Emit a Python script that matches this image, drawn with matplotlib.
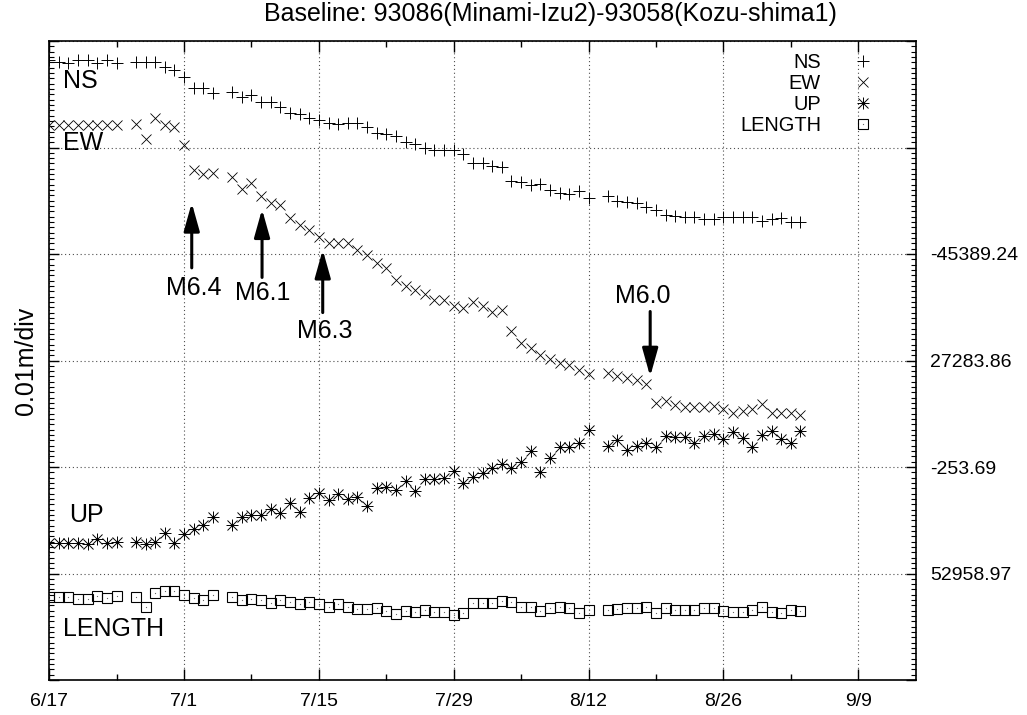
import numpy as np
import matplotlib.pyplot as plt
from matplotlib.lines import Line2D
from matplotlib import font_manager
from matplotlib.ticker import FixedLocator, FixedFormatter, MultipleLocator

nan = np.nan

# one fix per day, counted from 6/17 (nan = no solution that day)
days = list(range(79))

ns = [5.82, 5.80, 5.79, 5.82, 5.82, 5.79, 5.82, 5.79, nan, 5.80,
      5.80, 5.80, 5.76, 5.73, 5.66, 5.56, 5.56, 5.51, nan, 5.52,
      5.47, 5.49, 5.43, 5.43, 5.38, 5.32, 5.31, 5.28, 5.26, 5.23,
      5.22, 5.23, 5.23, 5.19, 5.14, 5.13, 5.11, 5.05, 5.03, 5.00,
      4.98, 4.98, 4.98, 4.94, 4.85, 4.85, 4.83, 4.82, 4.69, 4.68,
      4.65, 4.66, 4.60, 4.57, 4.56, 4.59, 4.53, nan, 4.54, 4.50,
      4.49, 4.48, 4.44, 4.41, 4.37, 4.36, 4.35, 4.35, 4.33, 4.33,
      4.35, 4.35, 4.35, 4.35, 4.31, 4.33, 4.34, 4.30, 4.30]

ew = [5.21, 5.21, 5.21, 5.21, 5.21, 5.21, 5.21, 5.21, nan, 5.22,
      5.08, 5.28, 5.21, 5.19, 5.02, 4.79, 4.75, 4.76, nan, 4.72,
      4.61, 4.67, 4.54, 4.48, 4.46, 4.34, 4.27, 4.23, 4.16, 4.10,
      4.10, 4.10, 4.04, 3.99, 3.92, 3.87, 3.76, 3.70, 3.66, 3.62,
      3.57, 3.57, 3.51, 3.49, 3.55, 3.51, 3.46, 3.47, 3.28, 3.16,
      3.12, 3.05, 3.01, 2.98, 2.96, 2.91, 2.87, nan, 2.88, 2.85,
      2.84, 2.82, 2.78, 2.60, 2.62, 2.58, 2.56, 2.56, 2.56, 2.57,
      2.54, 2.51, 2.53, 2.54, 2.59, 2.51, 2.51, 2.51, 2.49]

up = [1.29, 1.29, 1.29, 1.29, 1.28, 1.32, 1.29, 1.30, nan, 1.30,
      1.28, 1.30, 1.38, 1.29, 1.37, 1.42, 1.46, 1.53, nan, 1.46,
      1.53, 1.55, 1.55, 1.61, 1.57, 1.66, 1.58, 1.71, 1.76, 1.69,
      1.75, 1.70, 1.72, 1.63, 1.80, 1.81, 1.78, 1.87, 1.77, 1.89,
      1.89, 1.90, 1.96, 1.85, 1.91, 1.94, 1.99, 2.03, 1.99, 2.05,
      2.15, 1.95, 2.08, 2.19, 2.19, 2.23, 2.35, nan, 2.20, 2.25,
      2.16, 2.20, 2.23, 2.19, 2.29, 2.28, 2.28, 2.23, 2.29, 2.31,
      2.26, 2.33, 2.27, 2.19, 2.30, 2.34, 2.26, 2.23, 2.34]

length = [0.78, 0.78, 0.78, 0.76, 0.76, 0.79, 0.77, 0.79, nan, 0.78,
          0.69, 0.82, 0.84, 0.84, 0.80, 0.77, 0.75, 0.80, nan, 0.78,
          0.75, 0.76, 0.75, 0.72, 0.75, 0.73, 0.71, 0.73, 0.71, 0.69,
          0.71, 0.69, 0.67, 0.67, 0.68, 0.65, 0.62, 0.65, 0.64, 0.66,
          0.64, 0.64, 0.61, 0.63, 0.72, 0.72, 0.72, 0.74, 0.73, 0.69,
          0.69, 0.65, 0.68, 0.69, 0.68, 0.63, 0.66, nan, 0.66, 0.67,
          0.68, 0.68, 0.69, 0.63, 0.68, 0.66, 0.66, 0.66, 0.68, 0.68,
          0.65, 0.64, 0.64, 0.66, 0.69, 0.64, 0.63, 0.66, 0.65]

xtick_days = [0, 14, 28, 42, 56, 70, 84]
xtick_labels = ["6/17", "7/1", "7/15", "7/29", "8/12", "8/26", "9/9"]
ytick_divs = [0, 1, 2, 3, 4, 5, 6]
right_labels = ["", "52958.97", "-253.69", "27283.86", "-45389.24", "", ""]

# earthquakes: label, day, arrow tail, arrow tip, label x, label y
quakes = [("M6.4", 14.8, 3.87, 4.48, 15.0, 3.68),
          ("M6.1", 22.1, 3.78, 4.42, 22.2, 3.63),
          ("M6.3", 28.4, 3.45, 4.04, 28.6, 3.28),
          ("M6.0", 62.4, 3.46, 2.85, 61.6, 3.61)]

# series names written inside the plot
series_names = [("NS", 1.4, 5.62), ("EW", 1.4, 5.04),
                ("UP", 2.1, 1.55), ("LENGTH", 1.4, 0.48)]

names = {f.name for f in font_manager.fontManager.ttflist}
narrow = "Liberation Sans Narrow" if "Liberation Sans Narrow" in names else "Liberation Sans"
plt.rcParams["font.family"] = "Liberation Sans"

fig = plt.figure(figsize=(10.27, 7.15), dpi=100)
ax = fig.add_axes([49.2 / 1027, 1 - 680 / 715, (916 - 49.2) / 1027, 639 / 715])

k = dict(linestyle="none", color="black")
ax.plot(days, ns, marker="+", ms=8, mew=0.7, **k)
ax.plot(days, ew, marker="x", ms=7, mew=0.6, **k)
ax.plot(days, up, marker="+", ms=9, mew=0.7, **k)
ax.plot(days, up, marker="x", ms=7, mew=0.7, **k)
ax.plot(days, up, marker="o", ms=2.2, mew=0, **k)
ax.plot(days, length, marker="s", ms=6.5, mew=0.8, mfc="none", **k)
ax.plot(days, length, marker="o", ms=0.9, mew=0, color="0.4", linestyle="none")

for lab, d, tail, tip, lx, ly in quakes:
    ax.annotate("", xy=(d, tip), xytext=(d, tail),
                arrowprops=dict(arrowstyle="-|>,head_length=1.0,head_width=0.28",
                                mutation_scale=17, lw=2.2, color="black",
                                shrinkA=0, shrinkB=0))
    ax.text(lx, ly, lab, ha="center", va="center", fontsize=18)

for lab, x, y in series_names:
    ax.text(x, y, lab, ha="left", va="center", fontsize=18)

ax.set_xlim(0, 90)
ax.set_ylim(0, 6)
ax.xaxis.set_major_locator(FixedLocator(xtick_days))
ax.set_xticklabels(xtick_labels, fontsize=14, family=narrow)
ax.xaxis.set_minor_locator(MultipleLocator(7))
ax.yaxis.set_major_locator(FixedLocator(ytick_divs))
ax.yaxis.set_major_formatter(FixedFormatter(right_labels))
ax.yaxis.set_minor_locator(MultipleLocator(0.05))
ax.tick_params(which="both", direction="in", top=True, right=True,
               labelleft=False, labelright=True, width=1.0)
ax.tick_params(axis="x", which="major", length=8, pad=9)
ax.tick_params(axis="x", which="minor", length=4)
ax.tick_params(axis="y", which="major", length=7, labelsize=14, pad=10)
ax.tick_params(axis="y", which="minor", length=3.5, width=0.8)
for s in ax.spines.values():
    s.set_linewidth(1.2)
ax.grid(True, which="major", color="0.3", linestyle=(0, (1, 2.5)), lw=0.8)

ax.set_ylabel("0.01m/div", fontsize=18, labelpad=8)
fig.text(550 / 1027, 1 - 14 / 715, "Baseline: 93086(Minami-Izu2)-93058(Kozu-shima1)",
         ha="center", va="center", fontsize=18)

h_ns = Line2D([], [], marker="+", ms=8, mew=0.7, **k)
h_ew = Line2D([], [], marker="x", ms=7, mew=0.6, **k)
h_up = (Line2D([], [], marker="+", ms=9, mew=0.7, **k),
        Line2D([], [], marker="x", ms=7, mew=0.7, **k),
        Line2D([], [], marker="o", ms=2.2, mew=0, **k))
h_len = (Line2D([], [], marker="s", ms=6.5, mew=0.8, mfc="none", **k),
         Line2D([], [], marker="o", ms=0.9, mew=0, color="0.4", linestyle="none"))
ax.legend([h_ns, h_ew, h_up, h_len], ["NS", "EW", "UP", "LENGTH"],
          loc="upper right", bbox_to_anchor=(873 / 1027, 1 - 53 / 715),
          bbox_transform=fig.transFigure, markerfirst=False, frameon=False,
          fontsize=14.4, handlelength=1.0, handletextpad=1.6,
          labelspacing=0.1, borderpad=0, borderaxespad=0)

fig.savefig("out.png", dpi=100)
